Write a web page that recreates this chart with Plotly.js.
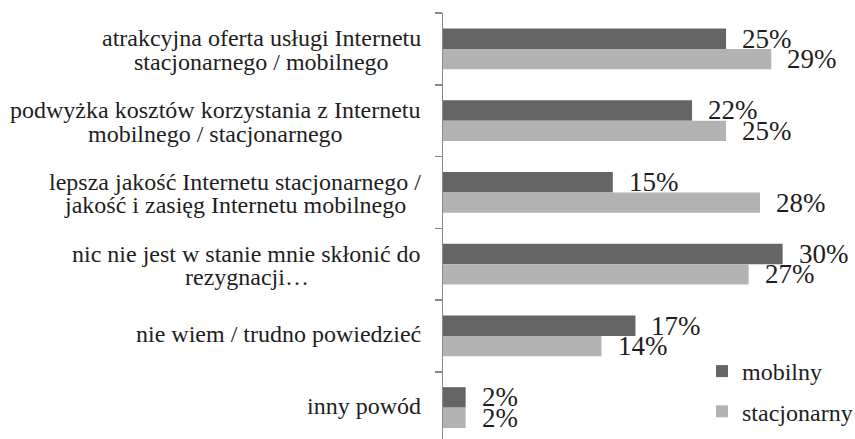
<!DOCTYPE html>
<html><head><meta charset="utf-8">
<script src="https://cdn.plot.ly/plotly-3.0.1.min.js"></script>
<style>html,body{margin:0;padding:0;background:#fff}</style>
</head><body><div id="chart" style="width:855px;height:439px"></div>
<script>
const categories = [
  "atrakcyjna oferta usługi Internetu<br>stacjonarnego / mobilnego",
  "podwyżka kosztów korzystania z Internetu<br>mobilnego / stacjonarnego",
  "lepsza jakość Internetu stacjonarnego /<br>jakość i zasięg Internetu mobilnego",
  "nic nie jest w stanie mnie skłonić do<br>rezygnacji…",
  "nie wiem / trudno powiedzieć",
  "inny powód"
];
const mobilny = [25, 22, 15, 30, 17, 2];
const stacjonarny = [29, 25, 28, 27, 14, 2];
const seriesNames = ["mobilny", "stacjonarny"];
const seriesColors = ["#656566", "#b3b3b4"];

const W = 855, H = 439;
const M = {l: 443, r: 5, t: 13, b: 0, autoexpand: false};
const plotW = W - M.l - M.r;
const FONT = "Liberation Serif";
const catFontSize = 24, valFontSize = 27;

const traces = [mobilny, stacjonarny].map((vals, i) => ({
  type: "bar", orientation: "h",
  name: seriesNames[i],
  y: categories, x: vals,
  marker: {color: seriesColors[i], line: {width: 0}},
  hoverinfo: "x+name",
  legendgroup: "g" + i
}));

// measure text widths for centred multi-line labels
const cv = document.createElement("canvas").getContext("2d");
cv.font = catFontSize + "px 'Liberation Serif'";
const labelRight = 421; // px
const lineStep = 23.3;
const annotations = [];
categories.forEach((cat, ci) => {
  const lines = cat.split("<br>");
  const maxW = Math.max(...lines.map(s => cv.measureText(s).width));
  const cx = (labelRight - maxW / 2 - M.l) / plotW;
  const n = lines.length;
  lines.forEach((ln, li) => {
    const ys = n === 1 ? 1.5 : ((n - 1) / 2 - li) * lineStep - 1.25;
    annotations.push({
      xref: "paper", yref: "y", x: cx, y: cat,
      xanchor: "center", yanchor: "middle", yshift: ys,
      text: ln, showarrow: false,
      font: {family: FONT, size: catFontSize, color: "#1e1e1e"}
    });
  });
});
[mobilny, stacjonarny].forEach((vals, si) => {
  vals.forEach((v, ci) => {
    annotations.push({
      xref: "x", yref: "y", x: v, y: categories[ci],
      xanchor: "left", yanchor: "middle",
      xshift: 14, yshift: si === 0 ? 10.2 : -10.2,
      text: v + "%", showarrow: false,
      font: {family: FONT, size: valFontSize, color: "#1e1e1e"}
    });
  });
});

const layout = {
  width: W, height: H,
  margin: M,
  paper_bgcolor: "#fff", plot_bgcolor: "#fff",
  font: {family: FONT, color: "#1e1e1e"},
  barmode: "group", bargap: 0.43, bargroupgap: 0,
  xaxis: {range: [0, 35.95], visible: false, fixedrange: true},
  yaxis: {
    type: "category", range: [5.437, -0.5],
    showline: true, linecolor: "#8a8a8a", linewidth: 1.5,
    ticks: "outside", ticklen: 7, tickcolor: "#8a8a8a", tickwidth: 1.5,
    tickson: "boundaries", showticklabels: false, showgrid: false,
    zeroline: false, fixedrange: true
  },
  showlegend: true,
  legend: {
    x: (702 - M.l) / plotW, xanchor: "left",
    y: 1 - (349 - M.t) / (H - M.t - M.b), yanchor: "top",
    font: {family: FONT, size: 24, color: "#1e1e1e"},
    bgcolor: "rgba(0,0,0,0)", traceorder: "grouped", tracegroupgap: 6
  },
  annotations: annotations
};
Plotly.newPlot("chart", traces, layout, {displayModeBar: false, staticPlot: true});
</script></body></html>
